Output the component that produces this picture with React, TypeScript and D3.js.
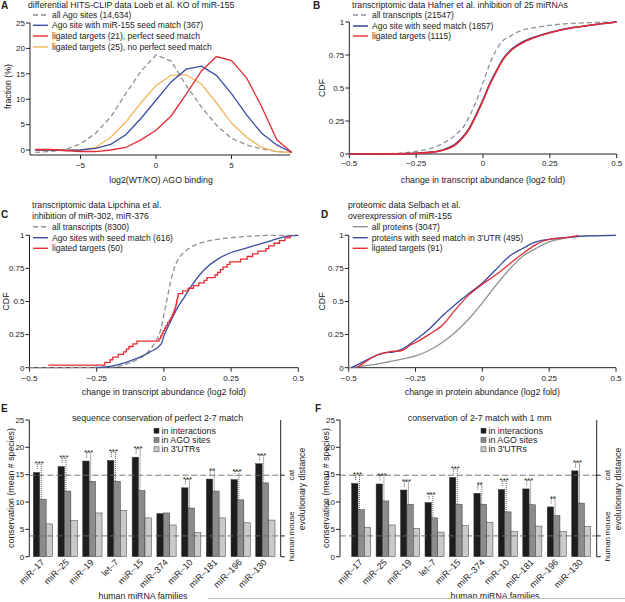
import React from 'react';
import * as d3 from 'd3';

const FONT = '"Liberation Sans", Arial, Helvetica, sans-serif';

// ---- panel A: differential HITS-CLIP (fraction %) ----
const aBins = [-8, -7, -6, -5, -4, -3, -2, -1, 0, 1, 2, 3, 4, 5, 6, 7, 8, 9];
const aAllSites = [-0.45, -0.3, 0.1, 1.2, 3.3, 6.5, 11.1, 15.5, 18.7, 17.5, 12.7, 8.5, 4.9, 2.3, 1.0, 0.2, -0.3, -0.5];
const aSeedSites = [0, 0, -0.1, 0, 0.3, 1.1, 3.0, 6.2, 9.8, 13.4, 15.9, 16.5, 14.7, 11.1, 6.9, 3.3, 1.0, -0.5];
const aLigSeed = [0.1, 0.1, -0.1, -0.3, -0.3, 0, 0.5, 2.0, 3.9, 6.7, 11.0, 15.5, 18.4, 17.6, 14.2, 8.5, 2.0, -0.5];
const aLigNoSeed = [0, 0, 0, 0, 0.5, 2.5, 5.5, 9.3, 12.7, 14.7, 14.8, 13.0, 9.3, 5.3, 2.5, 0.5, -0.3, -0.5];
const aXTicks = [-5, 0, 5];
const aYTicks = [0, 5, 10, 15, 20, 25];

// ---- panel B: Hafner et al. CDFs ----
const bX = [-0.5, -0.35, -0.25, -0.2, -0.15, -0.1, -0.075, -0.05, -0.025, 0, 0.025, 0.05, 0.075, 0.1, 0.125, 0.15, 0.2, 0.25, 0.3, 0.4, 0.5];
const bAll = [0, 0.003, 0.02, 0.04, 0.08, 0.15, 0.2, 0.29, 0.4, 0.54, 0.68, 0.79, 0.86, 0.89, 0.92, 0.94, 0.96, 0.975, 0.985, 0.995, 1];
const bSeed = [0, 0.001, 0.005, 0.012, 0.03, 0.08, 0.13, 0.2, 0.3, 0.41, 0.53, 0.63, 0.72, 0.78, 0.82, 0.85, 0.89, 0.92, 0.945, 0.975, 1];
const bLig = [0, 0.001, 0.005, 0.012, 0.028, 0.075, 0.125, 0.195, 0.295, 0.405, 0.525, 0.625, 0.715, 0.775, 0.815, 0.845, 0.888, 0.918, 0.943, 0.975, 1];

// ---- panel C: Lipchina et al. ----
const cAllX = [-0.5, -0.2, -0.15, -0.1, -0.075, -0.05, -0.025, -0.01, 0, 0.01, 0.025, 0.04, 0.06, 0.08, 0.1, 0.15, 0.2, 0.3, 0.4, 0.5];
const cAll = [0, 0.005, 0.02, 0.06, 0.09, 0.14, 0.22, 0.3, 0.4, 0.5, 0.65, 0.76, 0.84, 0.88, 0.91, 0.95, 0.97, 0.99, 1, 1];
const cSeedX = [-0.25, -0.2, -0.15, -0.1, -0.05, -0.01, 0, 0.025, 0.05, 0.075, 0.1, 0.15, 0.2, 0.25, 0.3, 0.35, 0.4, 0.45, 0.5];
const cSeed = [0, 0.01, 0.035, 0.07, 0.12, 0.18, 0.24, 0.35, 0.45, 0.53, 0.61, 0.74, 0.82, 0.87, 0.9, 0.93, 0.96, 0.99, 1];
// 50 ligated targets, sorted log2 fold changes
const cLig = [
  -0.43, -0.22, -0.2, -0.19, -0.17, -0.15, -0.14, -0.13, -0.115, -0.1,
  -0.018, -0.012, -0.007, -0.003, 0.003, 0.008, 0.014, 0.02, 0.026, 0.031,
  0.035, 0.039, 0.042, 0.045, 0.047, 0.049, 0.051, 0.053, 0.07, 0.09,
  0.11, 0.13, 0.15, 0.16, 0.19, 0.2, 0.21, 0.22, 0.235, 0.245,
  0.285, 0.31, 0.33, 0.35, 0.38, 0.39, 0.41, 0.43, 0.45, 0.47,
];

// ---- panel D: Selbach et al. ----
const dAllX = [-0.5, -0.45, -0.4, -0.35, -0.3, -0.25, -0.2, -0.15, -0.1, -0.05, 0, 0.05, 0.1, 0.15, 0.2, 0.25, 0.3, 0.35, 0.4, 0.5];
const dAll = [0, 0.012, 0.025, 0.045, 0.065, 0.09, 0.13, 0.19, 0.27, 0.37, 0.49, 0.62, 0.74, 0.84, 0.9, 0.95, 0.975, 0.99, 0.997, 1];
const dSeedX = [-0.49, -0.45, -0.42, -0.4, -0.37, -0.33, -0.3, -0.27, -0.25, -0.2, -0.15, -0.1, -0.05, 0, 0.05, 0.1, 0.15, 0.2, 0.25, 0.3, 0.4, 0.5];
const dSeed = [0, 0.04, 0.07, 0.09, 0.11, 0.12, 0.14, 0.18, 0.21, 0.29, 0.39, 0.48, 0.56, 0.64, 0.74, 0.84, 0.9, 0.95, 0.97, 0.98, 0.995, 1];
const dLigX = [-0.47, -0.44, -0.4, -0.35, -0.3, -0.27, -0.25, -0.2, -0.15, -0.1, -0.05, 0, 0.05, 0.1, 0.15, 0.2, 0.25, 0.3, 0.36];
const dLig = [0, 0.04, 0.09, 0.12, 0.13, 0.17, 0.19, 0.25, 0.32, 0.44, 0.55, 0.63, 0.7, 0.78, 0.86, 0.93, 0.97, 0.98, 1.0];

const cdfXTicks = [-0.5, -0.25, 0, 0.25, 0.5];
const cdfYTicks = [0, 0.25, 0.5, 0.75, 1];

// ---- panels E/F: conservation bars ----
const families = ['miR–17', 'miR–25', 'miR–19', 'let–7', 'miR–15', 'miR–374', 'miR–10', 'miR–181', 'miR–196', 'miR–130'];
const eInter = [15.4, 16.5, 17.5, 17.6, 18.2, 7.9, 12.6, 14.2, 14.1, 17.0];
const eAgo = [10.5, 12.0, 13.8, 13.8, 12.1, 8.0, 8.9, 12.0, 10.4, 13.5];
const eUtr = [6.0, 6.6, 8.0, 8.5, 7.1, 5.8, 4.4, 7.1, 6.2, 6.7];
const eSig = ['***', '***', '***', '***', '***', '', '***', '**', '***', '***'];
const fInter = [13.4, 13.3, 12.2, 9.9, 14.5, 11.6, 12.3, 12.4, 9.1, 15.7];
const fAgo = [8.6, 10.2, 9.6, 7.1, 9.6, 9.6, 8.2, 9.5, 7.5, 9.8];
const fUtr = [5.4, 5.8, 5.2, 4.5, 5.7, 6.3, 4.6, 5.6, 4.6, 5.5];
const fSig = ['***', '***', '***', '***', '***', '**', '***', '***', '**', '***'];
const barYTicks = [0, 5, 10, 15, 20, 25];
const species = ['human', 'mouse', 'cat'];
const speciesDist = [0, 3.8, 14.9];

const BLUE = '#3b4ea1';
const RED = '#e52b33';
const ORANGE = '#f4b457';
const GREY = '#909090';
const BAR_COLORS = ['#1d1d1d', '#8c8c8c', '#cacaca'];

const fmt = (d: number) => (d < 0 ? `−${-d}` : `${d}`);

const LeftAxis = ({ x, scale, ticks, top, bottom }: any) => (
  <g>
    <line x1={x} x2={x} y1={top} y2={bottom} stroke="#222" strokeWidth={1} />
    {ticks.map((t: number) => (
      <g key={t}>
        <line x1={x - 4} x2={x} y1={scale(t)} y2={scale(t)} stroke="#222" />
        <text x={x - 5} y={scale(t)} dy="0.35em" textAnchor="end" fontSize={8}>{fmt(t)}</text>
      </g>
    ))}
  </g>
);

const BottomAxis = ({ y, scale, ticks, left, right, labelY }: any) => (
  <g>
    <line x1={left} x2={right} y1={y} y2={y} stroke="#222" strokeWidth={1} />
    {ticks.map((t: number) => (
      <g key={t}>
        <line x1={scale(t)} x2={scale(t)} y1={y} y2={y + 4} stroke="#222" />
        <text x={scale(t)} y={labelY} dy="0.35em" textAnchor="middle" fontSize={8}>{fmt(t)}</text>
      </g>
    ))}
  </g>
);

const Legend = ({ x, items, ys }: any) => (
  <g>
    {items.map((it: any, i: number) => (
      <g key={i}>
        <line x1={x} x2={x + 15} y1={ys[i]} y2={ys[i]} stroke={it.color} strokeWidth={1.4} strokeDasharray={it.dash || null} />
        <text x={x + 19} y={ys[i]} dy="0.35em" fontSize={8.5}>{it.label}</text>
      </g>
    ))}
  </g>
);

const pairs = (xs: number[], ys: number[]) => d3.zip(xs, ys) as [number, number][];

function PanelA() {
  const x = d3.scaleLinear().domain([-8, 9]).range([35.2, 291.9]);
  const y = d3.scaleLinear().domain([0, 25]).range([150, 23]);
  const line = d3.line<[number, number]>().x(d => x(d[0])).y(d => y(d[1]));
  const series = [
    { v: aAllSites, color: GREY, dash: '5,3', label: 'all Ago sites (14,634)' },
    { v: aSeedSites, color: BLUE, label: 'Ago site with miR-155 seed match (367)' },
    { v: aLigSeed, color: RED, label: 'ligated targets (21), perfect seed match' },
    { v: aLigNoSeed, color: ORANGE, label: 'ligated targets (25), no perfect seed match' },
  ];
  return (
    <g>
      <text x={1} y={9} fontSize={10} fontWeight="bold">A</text>
      <text x={28} y={4.5} dy="0.35em" fontSize={8.7}>differential HITS-CLIP data Loeb et al. KO of miR-155</text>
      <LeftAxis x={30} scale={y} ticks={aYTicks} top={23} bottom={155} />
      <BottomAxis y={155} scale={x} ticks={aXTicks} left={30} right={290} labelY={165} />
      <text x={161} y={180} dy="0.35em" textAnchor="middle" fontSize={8.8}>log2(WT/KO) AGO binding</text>
      <text transform="translate(8,86.5) rotate(-90)" dy="0.35em" textAnchor="middle" fontSize={8.8}>fraction (%)</text>
      {[series[0], series[3], series[1], series[2]].map((s, i) => (
        <path key={i} d={line(pairs(aBins, s.v)) || ''} fill="none" stroke={s.color} strokeWidth={1.3} strokeDasharray={s.dash || null} />
      ))}
      <Legend x={33} ys={[15, 25.3, 36, 47]} items={series} />
    </g>
  );
}

function CdfPanel({ letter, letterPos, titles, titleX, titleYs, x0, x1, yTop, yBottom, curves, legendX, legendYs, xLabel, xLabelY, yLabelX, tickY }: any) {
  const x = d3.scaleLinear().domain([-0.5, 0.5]).range([x0, x1]);
  const y = d3.scaleLinear().domain([0, 1]).range([yBottom, yTop]);
  return (
    <g>
      <text x={letterPos[0]} y={letterPos[1]} fontSize={10} fontWeight="bold">{letter}</text>
      {titles.map((t: string, i: number) => (
        <text key={i} x={titleX} y={titleYs[i]} dy="0.35em" fontSize={8.7}>{t}</text>
      ))}
      <LeftAxis x={x0} scale={y} ticks={cdfYTicks} top={yTop} bottom={yBottom} />
      <BottomAxis y={yBottom} scale={x} ticks={cdfXTicks} left={x0} right={x1} labelY={tickY} />
      <text x={(x0 + x1) / 2} y={xLabelY} dy="0.35em" textAnchor="middle" fontSize={8.8}>{xLabel}</text>
      <text transform={`translate(${yLabelX},${(yTop + yBottom) / 2}) rotate(-90)`} dy="0.35em" textAnchor="middle" fontSize={8.8}>CDF</text>
      {curves.map((c: any, i: number) => {
        const line = d3.line<[number, number]>().x(d => x(d[0])).y(d => y(d[1])).curve(c.step ? d3.curveStepAfter : d3.curveMonotoneX);
        return <path key={i} d={line(c.pts) || ''} fill="none" stroke={c.color} strokeWidth={c.width || 1.3} strokeDasharray={c.dash || null} />;
      })}
      <Legend x={legendX} ys={legendYs} items={curves.slice().sort((a: any, b: any) => a.order - b.order)} />
    </g>
  );
}

function BarPanel({ letter, letterPos, title, titleX, xAxis, rightAxis, range, inter, ago, utr, sig, legendX, xLabelX, yLabelX }: any) {
  const y = d3.scaleLinear().domain([0, 25]).range([556.7, 420]);
  const x = d3.scaleBand().domain(families).range(range).paddingInner(0.22).paddingOuter(0.162);
  const sub = d3.scaleBand().domain(['inter', 'ago', 'utr']).range([0, x.bandwidth()]);
  const vals = [inter, ago, utr];
  const bw = sub.bandwidth();
  const legendLabels = ['in interactions', 'in AGO sites', "in 3'UTRs"];
  // label centres relative to each species tick
  const speciesLabelShift = [-7.5, -12.5, 0];
  return (
    <g>
      <text x={letterPos[0]} y={letterPos[1]} fontSize={10} fontWeight="bold">{letter}</text>
      <text x={titleX} y={418.3} dy="0.35em" textAnchor="middle" fontSize={8.8}>{title}</text>
      <LeftAxis x={xAxis} scale={y} ticks={barYTicks} top={420} bottom={556.7} />
      <text transform={`translate(${yLabelX},488) rotate(-90)`} dy="0.35em" textAnchor="middle" fontSize={8.8}>conservation (mean # species)</text>
      {families.map((f, i) => (
        <g key={f}>
          {vals.map((v, j) => (
            <rect key={j} x={(x(f) as number) + (sub(['inter', 'ago', 'utr'][j]) as number)} y={y(v[i])} width={bw} height={y(0) - y(v[i])} fill={BAR_COLORS[j]} stroke="#3a3a3a" strokeWidth={0.5} />
          ))}
          <text transform={`translate(${(x(f) as number) + x.bandwidth() / 2 + 2},563) rotate(-45)`} textAnchor="end" fontSize={9}>{f}</text>
        </g>
      ))}
      {speciesDist.slice(1).map((d, i) => (
        <line key={i} x1={xAxis} x2={rightAxis} y1={y(d)} y2={y(d)} stroke="#6a6a6a" strokeWidth={0.9} strokeDasharray="6,3" />
      ))}
      {families.map((f, i) => {
        if (!sig[i]) return null;
        const bx = (x(f) as number) + bw / 2 + 0.7;
        const gx = (x(f) as number) + bw + 1.5;
        const top = y(inter[i]) - 8.5;
        return (
          <g key={f} stroke="#333" strokeWidth={0.8} strokeDasharray="1,1" fill="none">
            <line x1={bx} x2={gx} y1={top} y2={top} />
            <line x1={bx} x2={bx} y1={top} y2={y(inter[i]) - 3.5} />
            <line x1={gx} x2={gx} y1={top} y2={y(ago[i])} />
            <text x={(bx + gx) / 2} y={top + 2.5} textAnchor="middle" fontSize={8} stroke="none" fill="#222">{sig[i]}</text>
          </g>
        );
      })}
      <line x1={rightAxis} x2={rightAxis} y1={420} y2={556.7} stroke="#222" />
      {speciesDist.map((d, i) => (
        <g key={i}>
          <line x1={rightAxis} x2={rightAxis + 4} y1={y(d)} y2={y(d)} stroke="#222" />
          <text transform={`translate(${rightAxis + 10},${y(d) + speciesLabelShift[i]}) rotate(-90)`} dy="0.35em" textAnchor="middle" fontSize={8}>{species[i]}</text>
        </g>
      ))}
      <text transform={`translate(${rightAxis + 21},489) rotate(-90)`} dy="0.35em" textAnchor="middle" fontSize={8.8}>evolutionary distance</text>
      {legendLabels.map((l, i) => (
        <g key={l}>
          <rect x={legendX} y={428.2 + i * 9.3} width={5} height={5} fill={BAR_COLORS[i]} stroke="#3a3a3a" strokeWidth={0.5} />
          <text x={legendX + 7.5} y={430.7 + i * 9.3} dy="0.35em" fontSize={8.8}>{l}</text>
        </g>
      ))}
      <text x={xLabelX} y={596} dy="0.35em" textAnchor="middle" fontSize={8.8}>human miRNA families</text>
    </g>
  );
}

export default function App() {
  const cLigPts = cLig.map((v, i) => [v, (i + 1) / cLig.length] as [number, number]);
  return (
    <div style={{ position: 'absolute', left: 0, top: 0 }}>
      <svg width={625} height={602} style={{ display: 'block', background: '#fff', fontFamily: FONT }} fill="#222">
        <PanelA />
        <CdfPanel
          letter="B" letterPos={[313, 9]} titles={['transcriptomic data Hafner et al. inhibition of 25 miRNAs']} titleX={352} titleYs={[4.5]}
          x0={349.3} x1={616.7} yTop={22} yBottom={154} legendX={353} legendYs={[15, 26, 36]}
          xLabel="change in transcript abundance (log2 fold)" xLabelY={180} yLabelX={322} tickY={163}
          curves={[
            { pts: pairs(bX, bAll), color: '#8a93a3', dash: '5,3', label: 'all transcripts (21547)', order: 0 },
            { pts: pairs(bX, bSeed), color: '#2b3a8a', width: 1.6, label: 'Ago site with seed match (1857)', order: 1 },
            { pts: pairs(bX, bLig), color: RED, width: 1.6, label: 'ligated targets (1115)', order: 2 },
          ]}
        />
        <CdfPanel
          letter="C" letterPos={[1, 218]} titles={['transcriptomic data Lipchina et al.', 'inhibition of miR-302, miR-376']} titleX={32} titleYs={[205, 215.7]}
          x0={29.5} x1={298.3} yTop={235.3} yBottom={367.7} legendX={33} legendYs={[226.7, 237.7, 248.3]}
          xLabel="change in transcript abundance (log2 fold)" xLabelY={391.7} yLabelX={6} tickY={377.7}
          curves={[
            { pts: pairs(cAllX, cAll), color: GREY, dash: '5,3', label: 'all transcripts (8300)', order: 0 },
            { pts: pairs(cSeedX, cSeed), color: BLUE, label: 'Ago sites with seed match (616)', order: 1 },
            { pts: cLigPts, color: RED, step: true, label: 'ligated targets (50)', order: 2 },
          ]}
        />
        <CdfPanel
          letter="D" letterPos={[321, 218]} titles={['proteomic data Selbach et al.', 'overexpression of miR-155']} titleX={348} titleYs={[205, 215.7]}
          x0={348.7} x1={616} yTop={235.3} yBottom={367.7} legendX={352.7} legendYs={[226.7, 237.7, 248.3]}
          xLabel="change in protein abundance (log2 fold)" xLabelY={391.7} yLabelX={322} tickY={377.7}
          curves={[
            { pts: pairs(dAllX, dAll), color: GREY, label: 'all proteins (3047)', order: 0 },
            { pts: pairs(dSeedX, dSeed), color: BLUE, label: "proteins with seed match in 3'UTR (495)", order: 1 },
            { pts: pairs(dLigX, dLig), color: RED, label: 'ligated targets (91)', order: 2 },
          ]}
        />
        <BarPanel
          letter="E" letterPos={[1, 412]} title="sequence conservation of perfect 2-7 match" titleX={157.5}
          xAxis={29.3} rightAxis={280.7} range={[29.3, 279]} inter={eInter} ago={eAgo} utr={eUtr} sig={eSig}
          legendX={154} xLabelX={143} yLabelX={11}
        />
        <BarPanel
          letter="F" letterPos={[315, 412]} title="conservation of 2-7 match with 1 mm" titleX={479.7}
          xAxis={340} rightAxis={596.7} range={[347.7, 594.7]} inter={fInter} ago={fAgo} utr={fUtr} sig={fSig}
          legendX={481} xLabelX={495} yLabelX={326}
        />
        <line x1={208} x2={625} y1={598.5} y2={598.5} stroke="#bdbdbd" strokeWidth={1} />
      </svg>
    </div>
  );
}
